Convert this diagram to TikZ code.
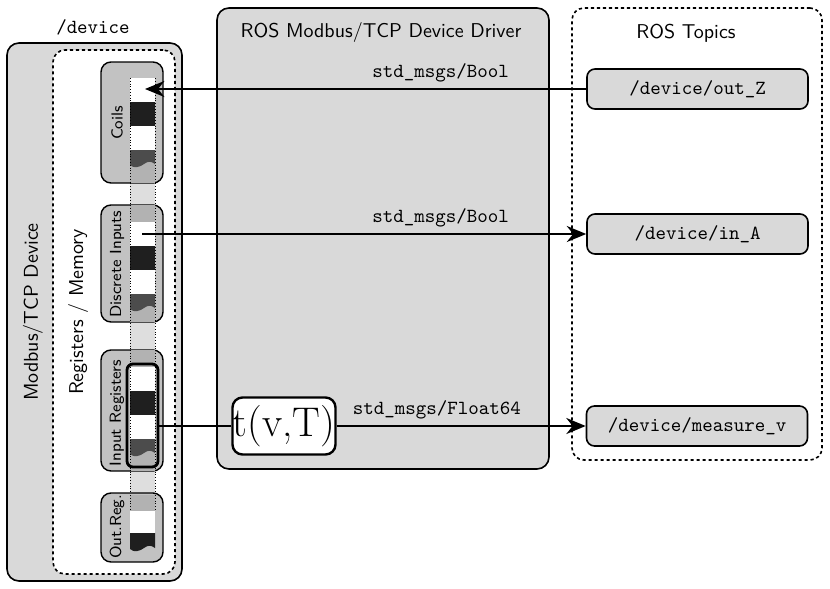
\documentclass[tikz,border=0pt]{standalone}
\usepackage{tikz}
\usetikzlibrary{arrows.meta,calc,positioning}
\definecolor{panelgray}{gray}{0.85}
\definecolor{reggray}{gray}{0.76}
\definecolor{bandgray}{gray}{0.70}
\definecolor{lightband}{gray}{0.87}
\definecolor{cellblack}{gray}{0.12}
\definecolor{celldark}{gray}{0.30}
\tikzset{
  panel/.style     = {draw, line width=0.8pt, rounded corners=6pt, fill=panelgray, inner sep=0pt},
  dotpanel/.style  = {draw, line width=0.8pt, dash pattern=on 1.6pt off 1.4pt,
                      rounded corners=6pt, fill=white, inner sep=0pt},
  regbox/.style    = {draw, line width=0.7pt, rounded corners=5pt, fill=reggray, inner sep=0pt,
                      minimum width=31pt},
  reglabel/.style  = {font=\sffamily\footnotesize, rotate=90},
  title/.style     = {font=\sffamily},
  topic/.style     = {draw, line width=0.8pt, rounded corners=4pt, fill=panelgray,
                      minimum width=110.5pt, minimum height=20pt, font=\ttfamily},
  msg/.style       = {font=\ttfamily, anchor=east},
  link/.style      = {-{Stealth[length=3.4mm,width=2.8mm]}, line width=1.2pt},
  plainlink/.style = {line width=1.2pt},
  stripside/.style = {densely dotted, line width=0.4pt},
}

\begin{document}
\begin{tikzpicture}[x=0.5pt,y=-0.5pt]
  \useasboundingbox (0,0) rectangle (830,589);

  % device side
  \node[panel, minimum width=87.5pt, minimum height=269pt] (device) at (94.5,312) {};
  \node[font=\ttfamily] (devname) at (93,27) {/device};
  \node[title, rotate=90] (devlabel) at (33,312) {Modbus/TCP Device};
  \node[dotpanel, minimum width=61pt, minimum height=262pt] (memory) at (114,312) {};
  \node[title, rotate=90] (memlabel) at (78,312) {Registers / Memory};

  % memory strip between the groups
  \fill[lightband] (130,172) rectangle (155,558);
  \draw[stripside] (130,172) -- (130,558) (155,172) -- (155,558);

  \node[regbox, minimum height=60.5pt] (coils) at (132,122.5) {};
  \node[regbox, minimum height=58.5pt] (discrete) at (132,263.5) {};
  \node[regbox, minimum height=60.5pt] (inputreg) at (132,410.5) {};
  \node[regbox, minimum height=34.5pt] (outreg) at (132,527.5) {};

  \foreach \btop/\bbot/\c in {78/183/78, 205/322/222, 350/471/367} {
    \fill[bandgray] (130,\btop) rectangle (155,\c);
    \fill[bandgray] (130,{\c+72}) rectangle (155,\bbot);
    \fill[white] (130,\c) rectangle (155,{\c+24});
    \fill[cellblack] (130,{\c+24}) rectangle (155,{\c+48});
    \fill[white] (130,{\c+48}) rectangle (155,{\c+72});
    \fill[celldark] (130,{\c+72}) -- (155,{\c+72}) -- (155,{\c+86})
      .. controls (151,{\c+83}) and (148,{\c+83}) .. (144,{\c+86})
      .. controls (140,{\c+89}) and (134,{\c+91}) .. (130,{\c+87}) -- cycle;
    \draw[stripside] (130,\btop) -- (130,\bbot) (155,\btop) -- (155,\bbot);
  }
  \fill[bandgray] (130,495) rectangle (155,511);
  \fill[white] (130,511) rectangle (155,533);
  \fill[cellblack] (130,533) -- (155,533) -- (155,548)
    .. controls (151,545) and (148,545) .. (144,548)
    .. controls (140,551) and (134,553) .. (130,549) -- cycle;
  \draw[stripside] (130,495) -- (130,511) (155,495) -- (155,511);

  \node[reglabel] at (117,123) {Coils};
  \node[reglabel] at (117,264) {Discrete Inputs};
  \node[reglabel] at (117,413) {Input Registers};
  \node[reglabel] at (117,527) {Out.Reg.};

  \node[draw, line width=1.4pt, rounded corners=3pt, inner sep=0pt,
        minimum width=15.5pt, minimum height=51.5pt] (irsel) at (142.5,415.5) {};
  \coordinate (coilbit) at (145,89);
  \coordinate (dibit) at (142,234);

  % driver
  \node[panel, minimum width=166pt, minimum height=230.5pt] (driver) at (383,238.5) {};
  \node[title] (drvtitle) at (381,33) {ROS Modbus/TCP Device Driver};
  \node[draw, line width=1.2pt, rounded corners=5pt, fill=white, inner sep=0pt,
        minimum width=51.5pt, minimum height=28.5pt, font=\huge] (tvt) at (284,426) {t(v,T)};

  % topics
  \node[dotpanel, minimum width=125pt, minimum height=226pt] (topics) at (697,234) {};
  \node[title] (toptitle) at (686,33) {ROS Topics};
  \node[topic] (outZ) at (697.5,89) {/device/out\_Z};
  \node[topic] (inA) at (697.5,234) {/device/in\_A};
  \node[topic] (measv) at (697,426) {/device/measure\_v};

  \draw[link] (outZ.west) -- (coilbit);
  \node[msg] at (516,73) {std\_msgs/Bool};
  \draw[link] (dibit) -- (inA.west);
  \node[msg] at (516,218) {std\_msgs/Bool};
  \draw[plainlink] (tvt.west) -- (tvt.west -| irsel.east);
  \draw[link] (tvt.east) -- (measv.west);
  \node[msg] at (528,410) {std\_msgs/Float64};
\end{tikzpicture}
\end{document}
